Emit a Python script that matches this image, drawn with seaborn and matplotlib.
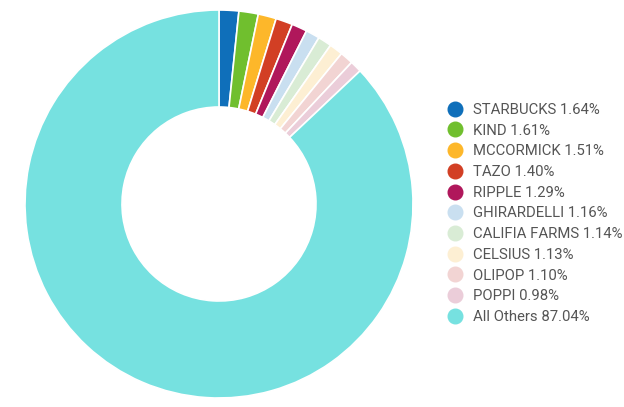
import matplotlib
matplotlib.use("Agg")
import matplotlib.pyplot as plt
from matplotlib.lines import Line2D
import seaborn as sns

brands = ["STARBUCKS", "KIND", "MCCORMICK", "TAZO", "RIPPLE", "GHIRARDELLI",
          "CALIFIA FARMS", "CELSIUS", "OLIPOP", "POPPI", "All Others"]
shares = [1.64, 1.61, 1.51, 1.40, 1.29, 1.16, 1.14, 1.13, 1.10, 0.98, 87.04]
colors = ["#0f6fba", "#70bf2e", "#fdb72a", "#d23f24", "#b0175b", "#c9dff0",
          "#d9ecd5", "#fdefd3", "#f2d4d3", "#ebcdd9", "#76e1e0"]

sns.set_theme(style="white")
plt.rcParams["font.family"] = ["Roboto", "DejaVu Sans"]

fig = plt.figure(figsize=(6.24, 4.07), dpi=100)
W, H = 624, 407
cx, cy, r = 219, 204, 194
ax = fig.add_axes([(cx - r) / W, (H - cy - r) / H, 2 * r / W, 2 * r / H])
ax.pie(shares, colors=sns.color_palette(colors), startangle=90, counterclock=False,
       radius=1.0, wedgeprops=dict(width=0.5, edgecolor="white", linewidth=1.2))
ax.set_xlim(-1, 1)
ax.set_ylim(-1, 1)
ax.set_aspect("equal")
ax.axis("off")

handles = [Line2D([0], [0], marker="o", linestyle="none", markersize=10.5,
                  markerfacecolor=c, markeredgecolor=c) for c in colors]
labels = [f"{b} {s:.2f}%" for b, s in zip(brands, shares)]
fig.legend(handles, labels, loc="upper left", bbox_to_anchor=(449 / W, 1 - 103 / H),
           frameon=False, fontsize=10.7, labelcolor="#555555", handlelength=0.8,
           handletextpad=0.82, labelspacing=0.45, borderaxespad=0, borderpad=0)

fig.savefig("out.png", dpi=100)
